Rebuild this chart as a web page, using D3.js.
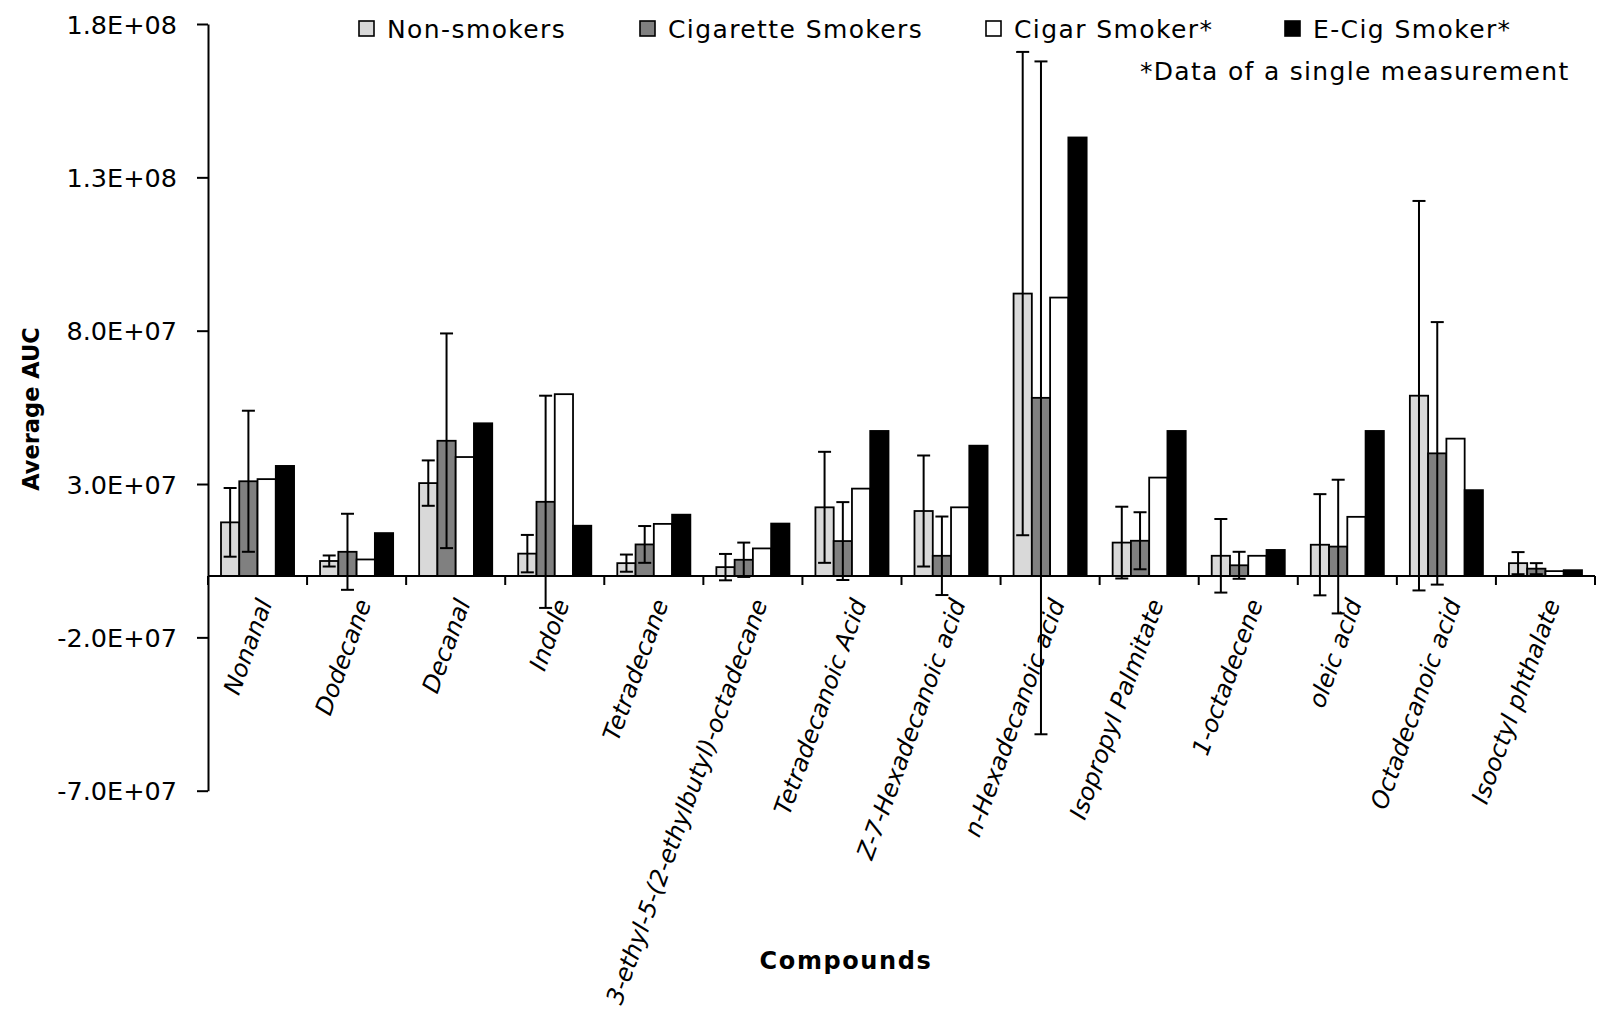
<!DOCTYPE html>
<html>
<head>
<meta charset="utf-8">
<script src="https://cdn.jsdelivr.net/npm/d3@7"></script>
<style>
  body { margin: 0; background: #fff; }
  svg text { font-family: "DejaVu Sans", sans-serif; fill: #000; }
</style>
</head>
<body>
<svg id="chart" width="1608" height="1018"></svg>
<script>
// Compounds measured, in axis order
const categories = [
  "Nonanal", "Dodecane", "Decanal", "Indole", "Tetradecane",
  "3-ethyl-5-(2-ethylbutyl)-octadecane", "Tetradecanoic Acid",
  "Z-7-Hexadecanoic acid", "n-Hexadecanoic acid", "Isopropyl Palmitate",
  "1-octadecene", "oleic acid", "Octadecanoic acid", "Isooctyl phthalate"
];

const seriesNames = ["Non-smokers", "Cigarette Smokers", "Cigar Smoker*", "E-Cig Smoker*"];

// Average AUC per group
const nonSmokers       = [1.75e7, 4.9e6, 3.03e7, 7.3e6, 4.2e6, 2.9e6, 2.24e7, 2.12e7, 9.21e7, 1.09e7, 6.6e6, 1.02e7, 5.88e7, 4.2e6];
const nonSmokersErr    = [1.12e7, 1.8e6, 7.4e6, 6.1e6, 2.8e6, 4.3e6, 1.81e7, 1.81e7, 7.88e7, 1.17e7, 1.2e7, 1.65e7, 6.35e7, 3.6e6];
const cigaretteSmokers = [3.09e7, 7.9e6, 4.41e7, 2.42e7, 1.03e7, 5.3e6, 1.14e7, 6.6e6, 5.81e7, 1.15e7, 3.5e6, 9.6e6, 4.0e7, 2.4e6];
const cigaretteErr     = [2.3e7, 1.24e7, 3.5e7, 3.46e7, 6.0e6, 5.6e6, 1.27e7, 1.28e7, 1.097e8, 9.3e6, 4.4e6, 2.18e7, 4.28e7, 1.8e6];
const cigarSmoker      = [3.16e7, 5.4e6, 3.88e7, 5.93e7, 1.7e7, 9.0e6, 2.85e7, 2.24e7, 9.08e7, 3.21e7, 6.6e6, 1.93e7, 4.48e7, 1.6e6];
const eCigSmoker       = [3.59e7, 1.4e7, 4.98e7, 1.64e7, 2.0e7, 1.71e7, 4.73e7, 4.25e7, 1.43e8, 4.73e7, 8.5e6, 4.73e7, 2.8e7, 1.9e6];

const yTicks = [-7e7, -2e7, 3e7, 8e7, 1.3e8, 1.8e8];
const yTitle = "Average AUC";
const xTitle = "Compounds";
const footnote = "*Data of a single measurement";

const series = [
  { name: seriesNames[0], values: nonSmokers,       errors: nonSmokersErr, fill: "#d9d9d9", legendX: 359 },
  { name: seriesNames[1], values: cigaretteSmokers, errors: cigaretteErr,  fill: "#808080", legendX: 640 },
  { name: seriesNames[2], values: cigarSmoker,      errors: null,          fill: "#ffffff", legendX: 986 },
  { name: seriesNames[3], values: eCigSmoker,       errors: null,          fill: "#000000", legendX: 1285 }
];

const svg = d3.select("#chart");

const plotLeft = 208, plotRight = 1595, plotTop = 24, plotBottom = 790.7;

const x0 = d3.scaleBand().domain(categories).range([plotLeft, plotRight]);
const groupInset = 13;
const x1 = d3.scaleBand().domain(seriesNames).range([groupInset, x0.bandwidth() - groupInset]);
const y = d3.scaleLinear().domain([yTicks[0], yTicks[yTicks.length - 1]]).range([plotBottom, plotTop]);

function sci(v) {
  const [m, e] = v.toExponential(1).split("e");
  const sign = e[0];
  const ex = String(Math.abs(+e)).padStart(2, "0");
  return m + "E" + sign + ex;
}

// Bars
const groups = svg.append("g").selectAll("g")
  .data(categories)
  .join("g")
  .attr("transform", d => `translate(${x0(d)},0)`);

series.forEach(s => {
  groups.append("rect")
    .attr("x", () => x1(s.name))
    .attr("width", x1.bandwidth())
    .attr("y", (d, i) => y(Math.max(0, s.values[i])))
    .attr("height", (d, i) => Math.abs(y(s.values[i]) - y(0)))
    .attr("fill", s.fill)
    .attr("stroke", "#000")
    .attr("stroke-width", 1.8);
});

// Error bars (mean ± SD)
const capHalf = 6.5;
series.filter(s => s.errors).forEach(s => {
  groups.each(function (d, i) {
    const g = d3.select(this);
    const cx = x1(s.name) + x1.bandwidth() / 2;
    const hi = y(s.values[i] + s.errors[i]);
    const lo = y(s.values[i] - s.errors[i]);
    const eb = g.append("g").attr("stroke", "#000").attr("stroke-width", 2);
    eb.append("line").attr("x1", cx).attr("x2", cx).attr("y1", hi).attr("y2", lo);
    eb.append("line").attr("x1", cx - capHalf).attr("x2", cx + capHalf).attr("y1", hi).attr("y2", hi);
    eb.append("line").attr("x1", cx - capHalf).attr("x2", cx + capHalf).attr("y1", lo).attr("y2", lo);
  });
});

// Y axis
const yAxis = svg.append("g")
  .attr("transform", `translate(${plotLeft},0)`)
  .call(d3.axisLeft(y).tickValues(yTicks).tickFormat(sci).tickSize(11).tickSizeOuter(0).tickPadding(20));
yAxis.select(".domain").attr("stroke", "#000").attr("stroke-width", 2);
yAxis.selectAll(".tick line").attr("stroke", "#000").attr("stroke-width", 2);
yAxis.selectAll(".tick text")
  .attr("dy", "0.36em")
  .style("font-family", "'DejaVu Sans', sans-serif")
  .style("font-size", "25.5px");

// X axis along zero, ticks at category boundaries
const xAxis = svg.append("g").attr("stroke", "#000").attr("stroke-width", 2);
xAxis.append("line")
  .attr("x1", plotLeft).attr("x2", plotRight)
  .attr("y1", y(0)).attr("y2", y(0));
const boundaries = categories.map(c => x0(c)).concat([plotRight]);
xAxis.selectAll(".xtick").data(boundaries).join("line")
  .attr("class", "xtick")
  .attr("x1", d => d).attr("x2", d => d)
  .attr("y1", y(0)).attr("y2", y(0) + 9);

// Category labels
svg.append("g").selectAll("text")
  .data(categories)
  .join("text")
  .attr("transform", d => `translate(${x0(d) + x0.bandwidth() / 2 + 15},${y(0) + 27}) rotate(-70)`)
  .attr("text-anchor", "end")
  .style("font-style", "italic")
  .style("font-size", "24px")
  .text(d => d);

// Axis titles
svg.append("text")
  .attr("transform", `translate(39,409) rotate(-90)`)
  .attr("text-anchor", "middle")
  .style("font-weight", "bold")
  .style("font-size", "22.5px")
  .text(yTitle);

svg.append("text")
  .attr("x", 846).attr("y", 969)
  .attr("text-anchor", "middle")
  .style("font-weight", "bold")
  .style("font-size", "24px")
  .style("letter-spacing", "1.6px")
  .text(xTitle);

// Legend
const legend = svg.append("g");
series.forEach(s => {
  const item = legend.append("g").attr("transform", `translate(${s.legendX},21)`);
  item.append("rect")
    .attr("x", 0).attr("y", 0).attr("width", 15).attr("height", 15)
    .attr("fill", s.fill).attr("stroke", "#000").attr("stroke-width", 1.6);
  item.append("text")
    .attr("x", 28).attr("y", 16.5)
    .style("font-size", "25px")
    .style("letter-spacing", "1.4px")
    .text(s.name);
});
legend.append("text")
  .attr("x", 1140).attr("y", 80)
  .style("font-size", "25px")
  .style("letter-spacing", "1.3px")
  .text(footnote);
</script>
</body>
</html>
